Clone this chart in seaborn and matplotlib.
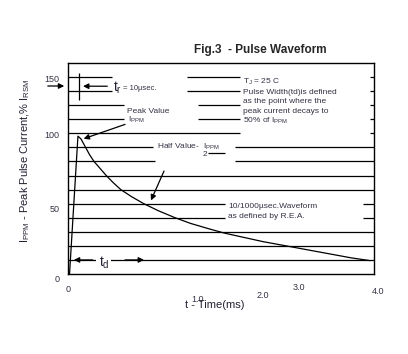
import matplotlib
matplotlib.use("Agg")
import matplotlib.pyplot as plt
import seaborn as sns
import numpy as np
import pandas as pd

# pulse waveform (time in ms, current in % of peak)
time_ms = [0.02, 0.13, 0.17, 0.23, 0.28, 0.34, 0.42, 0.5, 0.59, 0.69, 0.83, 0.99,
           1.18, 1.4, 1.6, 1.85, 2.05, 2.3, 2.55, 2.8, 3.05, 3.3, 3.5, 3.7, 3.95]
current = [0, 98, 96, 90, 85, 80, 75, 70, 65, 60, 55, 50,
           45, 40, 36, 32, 29, 26, 23, 20.5, 18, 15.5, 13.5, 11.5, 9.5]

grid_levels = [10, 20, 30, 40, 50, 60, 70, 80, 90, 100, 110, 120, 130, 140]
ytick_labels = ['150', '100', '50', '0']
xtick_labels = ['0', '1.0', '2.0', '3.0', '4.0']

sns.set_style('white')
plt.rcParams['font.family'] = ['Liberation Sans', 'DejaVu Sans']
plt.rcParams['mathtext.fontset'] = 'custom'
plt.rcParams['mathtext.rm'] = 'Liberation Sans'
plt.rcParams['mathtext.it'] = 'Liberation Sans'

fig = plt.figure(figsize=(4.08, 3.54), dpi=100)
ax = fig.add_axes([68 / 408, 1 - 274 / 354, 306 / 408, 211 / 354])

df = pd.DataFrame({'t': time_ms, 'i': current})

# horizontal lines, with gaps where the notes sit
gaps = {140: [(0.575, 1.556), (2.25, 3.95)],
        130: [(0.575, 1.556), (2.25, 3.95)],
        120: [(0.73, 1.70), (2.25, 3.95)],
        110: [(0.73, 1.70), (2.25, 3.95)],
        100: [(2.25, 3.95)],
        90: [(1.11, 2.18)],
        80: [(1.14, 2.18)],
        50: [(2.05, 3.85)],
        40: [(2.05, 3.85)]}
for lv in grid_levels:
    start = 0
    for a, b in gaps.get(lv, []):
        ax.hlines(lv, start, a, color='black', lw=0.9)
        start = b
    ax.hlines(lv, start, 4.0, color='black', lw=0.9)

sns.lineplot(data=df, x='t', y='i', ax=ax, color='black', lw=0.9, zorder=3)

ax.set_xlim(0, 4.0)
ax.set_ylim(0, 150)
ax.set_xticks([])
ax.set_yticks([])
ax.set_xlabel('')
ax.set_ylabel('')
for s in ax.spines.values():
    s.set_color('black')
    s.set_linewidth(1.0)

txt = '#333344'
# odd tick label placement, as in the reference (pixel positions)
def px(x, y):
    return x / 408, 1 - y / 354

for lab, (x, y) in zip(ytick_labels, [(52, 79), (52, 135), (55, 209), (57, 279)]):
    fig.text(*px(x, y), lab, fontsize=6.5, color=txt, ha='center', va='center')
for lab, (x, y) in zip(xtick_labels, [(68, 289), (198, 300), (263, 296), (299, 287), (378, 292)]):
    fig.text(*px(x, y), lab, fontsize=6.5, color=txt, ha='center', va='center')

fig.text(*px(215, 305), 't - Time(ms)', fontsize=8, color='#222233', ha='center', va='center')
fig.text(*px(25, 161), r'I$_{\mathrm{PPM}}$ - Peak Pulse Current,% I$_{\mathrm{RSM}}$',
         fontsize=8, color='#222233', rotation=90, ha='center', va='center')
fig.text(*px(260, 50), 'Fig.3  - Pulse Waveform', fontsize=8.5, fontweight='bold',
         ha='center', va='center')

arr = dict(arrowstyle='-|>', color='black', lw=0.9, mutation_scale=8)

# rise time marker
ax.vlines(0.144, 123.5, 143, color='black', lw=0.9)
ax.annotate('', xy=px(67, 86), xycoords='figure fraction',
            xytext=px(45, 86), textcoords='figure fraction', arrowprops=arr)
ax.annotate('', xy=(0.16, 133.5), xytext=(0.55, 133.5), arrowprops=arr)
fig.text(*px(113, 88), r't$_{\mathrm{r}}$', fontsize=10, color='#222233', va='center')
fig.text(*px(123, 88), '= 10µsec.', fontsize=5.5, color=txt, va='center')

# peak value
fig.text(*px(127, 111), 'Peak Value', fontsize=6, color=txt, va='center')
fig.text(*px(128, 120), r'I$_{\mathrm{PPM}}$', fontsize=6, color=txt, va='center')
ax.annotate('', xy=(0.17, 95.5), xytext=(0.78, 107), arrowprops=arr)

# half value
fig.text(*px(157, 147), r'Half Value-  I$_{\mathrm{PPM}}$', fontsize=6, color=txt, va='center')
fig.text(*px(203, 155), '2', fontsize=6, color=txt, va='center')
ax.hlines(86, 1.83, 2.05, color='black', lw=0.9)
ax.annotate('', xy=(1.07, 50.5), xytext=(1.27, 75), arrowprops=arr)

# pulse width marker
ax.annotate('', xy=(0.04, 10), xytext=(0.36, 10), arrowprops=arr)
ax.annotate('', xy=(1.03, 10), xytext=(0.71, 10), arrowprops=arr)
ax.text(0.47, 8, r't$_{\mathrm{d}}$', fontsize=10, color='#222233', ha='center', va='center',
        bbox=dict(facecolor='white', edgecolor='none', pad=1.5), zorder=4)

# notes
fig.text(*px(243, 82), r'T$_{\mathrm{J}}$ = 25 C', fontsize=6, color=txt, va='center')
notes = ['Pulse Width(td)is defined', 'as the point where the',
         'peak current decays to', r'50% of I$_{\mathrm{PPM}}$']
for k, line in enumerate(notes):
    fig.text(*px(243, 92 + 9.6 * k), line, fontsize=6, color=txt, va='center')
fig.text(*px(228, 207), '10/1000µsec.Waveform', fontsize=6, color=txt, va='center')
fig.text(*px(228, 216), 'as defined by R.E.A.', fontsize=6, color=txt, va='center')

fig.savefig('out.png', dpi=100)
